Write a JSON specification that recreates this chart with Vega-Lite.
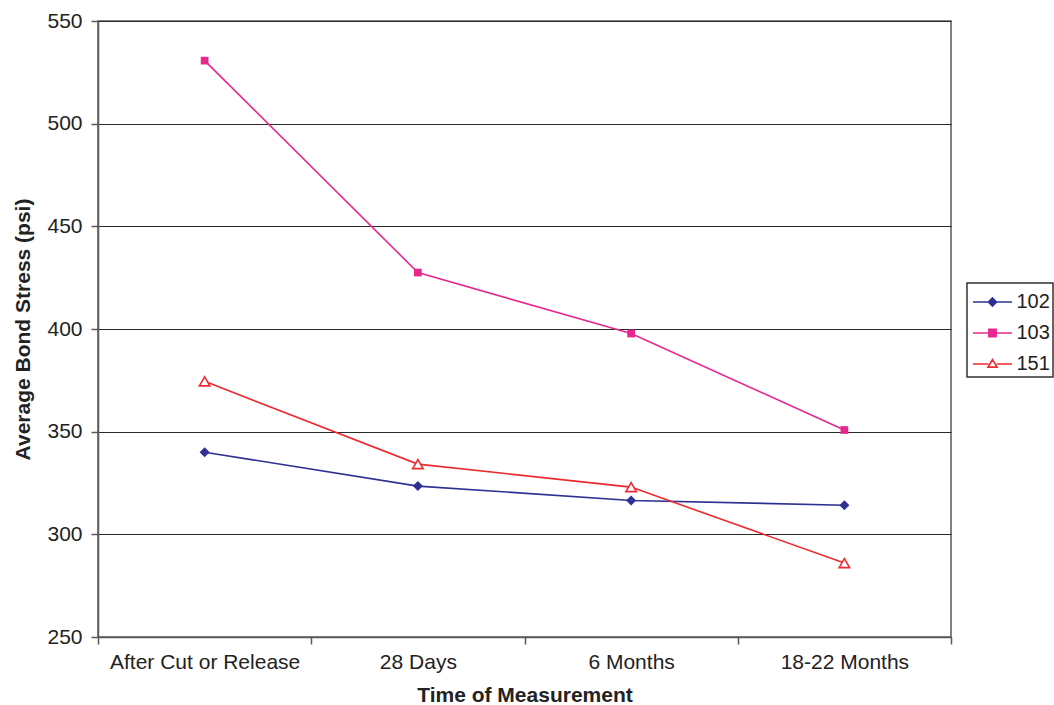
{
  "$schema": "https://vega.github.io/schema/vega-lite/v6.json",
  "width": 853,
  "height": 616,
  "autosize": "none",
  "padding": {"left": 98, "top": 21, "right": 103, "bottom": 68},
  "background": "white",
  "config": {
    "font": "Liberation Sans",
    "view": {"stroke": "#5a5a5a", "strokeWidth": 1.5}
  },
  "data": {
    "values": [
      {"time": "After Cut or Release", "beam": "102", "stress": 340},
      {"time": "28 Days", "beam": "102", "stress": 323.5},
      {"time": "6 Months", "beam": "102", "stress": 316.5},
      {"time": "18-22 Months", "beam": "102", "stress": 314.2},
      {"time": "After Cut or Release", "beam": "103", "stress": 530.7},
      {"time": "28 Days", "beam": "103", "stress": 427.5},
      {"time": "6 Months", "beam": "103", "stress": 397.8},
      {"time": "18-22 Months", "beam": "103", "stress": 350.8},
      {"time": "After Cut or Release", "beam": "151", "stress": 374.5},
      {"time": "28 Days", "beam": "151", "stress": 334.2},
      {"time": "6 Months", "beam": "151", "stress": 323},
      {"time": "18-22 Months", "beam": "151", "stress": 286}
    ]
  },
  "encoding": {
    "x": {
      "field": "time",
      "type": "nominal",
      "sort": ["After Cut or Release", "28 Days", "6 Months", "18-22 Months"],
      "bandPosition": 0.5,
      "scale": {"type": "band", "paddingInner": 0, "paddingOuter": 0},
      "axis": {
        "title": "Time of Measurement",
        "titleFontSize": 21,
        "titleFontWeight": "bold",
        "titleColor": "#222",
        "titlePadding": 12,
        "labelAngle": 0,
        "labelFontSize": 21,
        "labelColor": "#222",
        "labelPadding": 7,
        "labelLimit": 400,
        "tickBand": "extent",
        "tickSize": 7,
        "tickColor": "#5a5a5a",
        "tickWidth": 1.5,
        "domainColor": "#5a5a5a",
        "domainWidth": 1.5,
        "grid": false
      }
    },
    "y": {
      "field": "stress",
      "type": "quantitative",
      "scale": {"domain": [250, 550], "nice": false, "zero": false},
      "axis": {
        "title": "Average Bond Stress (psi)",
        "titleFontSize": 21,
        "titleFontWeight": "bold",
        "titleColor": "#222",
        "titlePadding": 13,
        "values": [250, 300, 350, 400, 450, 500, 550],
        "labelFontSize": 21,
        "labelColor": "#222",
        "labelPadding": 9,
        "tickSize": 7,
        "tickColor": "#5a5a5a",
        "tickWidth": 1.5,
        "domainColor": "#5a5a5a",
        "domainWidth": 1.5,
        "grid": true,
        "gridColor": "#2a2a2a",
        "gridWidth": 1
      }
    }
  },
  "layer": [
    {
      "mark": {"type": "line", "strokeWidth": 1.6},
      "encoding": {
        "stroke": {
          "field": "beam",
          "type": "nominal",
          "scale": {"domain": ["102", "103", "151"], "range": ["#2e3192", "#e8288f", "#ee2a2e"]},
          "legend": {
            "title": null,
            "orient": "none",
            "legendX": 869,
            "legendY": 262,
            "strokeColor": "#333",
            "fillColor": "white",
            "padding": 3,
            "rowPadding": 5,
            "symbolSize": 900,
            "symbolOffset": 6.5,
            "symbolStrokeWidth": 1.6,
            "labelFontSize": 20,
            "labelColor": "#222",
            "labelOffset": 8,
            "labelLimit": 200,
            "encode": {
              "legend": {"update": {"strokeWidth": {"value": 1.5}}},
              "symbols": {
                "update": {
                  "shape": {"signal": "datum.value === '102' ? 'M-1.3,0L1.3,0M0,-0.27L0.27,0L0,0.27L-0.27,0Z' : datum.value === '103' ? 'M-1.3,0L1.3,0M-0.24,-0.24L0.24,-0.24L0.24,0.24L-0.24,0.24Z' : 'M-1.3,0L-0.27,0M0.27,0L1.3,0M-0.3,0.21L0,-0.3L0.3,0.21Z'"},
                  "fill": {"signal": "datum.value === '102' ? '#2e3192' : datum.value === '103' ? '#e8288f' : 'white'"},
                  "size": {"value": 900},
                  "fillOpacity": {"value": 1},
                  "opacity": {"value": 1}
                }
              }
            }
          }
        }
      }
    },
    {
      "transform": [{"filter": "datum.beam === '102'"}],
      "mark": {"type": "point", "shape": "diamond", "size": 100, "filled": true, "color": "#2e3192", "opacity": 1}
    },
    {
      "transform": [{"filter": "datum.beam === '103'"}],
      "mark": {"type": "point", "shape": "square", "size": 60, "filled": true, "color": "#e8288f", "opacity": 1}
    },
    {
      "transform": [{"filter": "datum.beam === '151'"}],
      "mark": {"type": "point", "shape": "triangle-up", "size": 110, "fill": "white", "fillOpacity": 1, "stroke": "#ee2a2e", "strokeWidth": 1.6, "opacity": 1}
    }
  ]
}
